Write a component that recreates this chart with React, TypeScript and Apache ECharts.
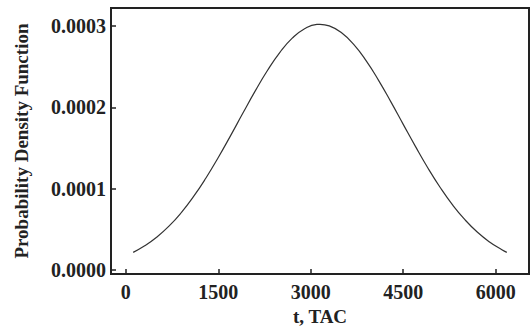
import React, { useEffect, useRef } from "react";
import * as echarts from "echarts";

const tValues = [120, 300, 500, 700, 900, 1100, 1300, 1500, 1700, 1900, 2100, 2300, 2500, 2700, 2900, 3100, 3150, 3300, 3500, 3700, 3900, 4100, 4300, 4500, 4700, 4900, 5100, 5300, 5500, 5700, 5900, 6100, 6180];
const pdfValues = [0.0000217, 0.0000294, 0.0000403, 0.0000539, 0.0000706, 0.0000904, 0.0001131, 0.0001383, 0.0001652, 0.0001929, 0.0002201, 0.0002455, 0.0002675, 0.0002849, 0.0002966, 0.0003019, 0.000302, 0.0003001, 0.0002916, 0.0002769, 0.000257, 0.0002331, 0.0002066, 0.000179, 0.0001516, 0.0001254, 0.0001014, 0.0000801, 0.0000619, 0.0000467, 0.0000345, 0.0000249, 0.0000217];
const xTicks = [0, 1500, 3000, 4500, 6000];
const yTicks = [0, 0.0001, 0.0002, 0.0003];
const xName = "t, TAC";
const yName = "Probability Density Function";

const FONT = "'Liberation Serif', 'Times New Roman', serif";
const INK = "#222";

export default function App() {
  const ref = useRef<HTMLDivElement>(null);
  useEffect(() => {
    if (!ref.current) return;
    const chart = echarts.init(ref.current, null, { renderer: "svg" });
    chart.setOption({
      animation: false,
      backgroundColor: "#fff",
      grid: {
        left: 111,
        right: 2,
        top: 8,
        bottom: 53,
        show: true,
        borderColor: INK,
        borderWidth: 2,
        backgroundColor: "transparent",
      },
      xAxis: {
        type: "value",
        min: -240,
        max: 6540,
        name: xName,
        nameLocation: "middle",
        nameGap: 30,
        nameTextStyle: { fontFamily: FONT, fontWeight: "bold", fontSize: 19, color: INK },
        axisLine: { show: true, onZero: false, lineStyle: { color: INK, width: 2 } },
        axisTick: { show: true, inside: true, length: 5, lineStyle: { color: INK, width: 1.5 }, customValues: xTicks },
        axisLabel: {
          customValues: xTicks,
          margin: 8,
          formatter: (v: number) => String(v),
          fontFamily: FONT,
          fontWeight: "bold",
          fontSize: 20,
          color: INK,
        },
        splitLine: { show: false },
      },
      yAxis: {
        type: "value",
        min: -0.000005,
        max: 0.000322,
        name: yName,
        nameLocation: "middle",
        nameGap: 80,
        nameRotate: 90,
        nameTextStyle: { fontFamily: FONT, fontWeight: "bold", fontSize: 19, color: INK },
        axisLine: { show: true, onZero: false, lineStyle: { color: INK, width: 2 } },
        axisTick: { show: true, inside: true, length: 5, lineStyle: { color: INK, width: 1.5 }, customValues: yTicks },
        axisLabel: {
          customValues: yTicks,
          margin: 5,
          formatter: (v: number) => v.toFixed(4),
          fontFamily: FONT,
          fontWeight: "bold",
          fontSize: 20,
          color: INK,
        },
        splitLine: { show: false },
      },
      series: [
        {
          type: "line",
          data: tValues.map((t, i) => [t, pdfValues[i]]),
          smooth: true,
          showSymbol: false,
          lineStyle: { color: "#333", width: 1.2 },
        },
      ],
    });
    return () => chart.dispose();
  }, []);
  return <div ref={ref} style={{ width: 531, height: 331, position: "absolute", left: 0, top: 0 }} />;
}
